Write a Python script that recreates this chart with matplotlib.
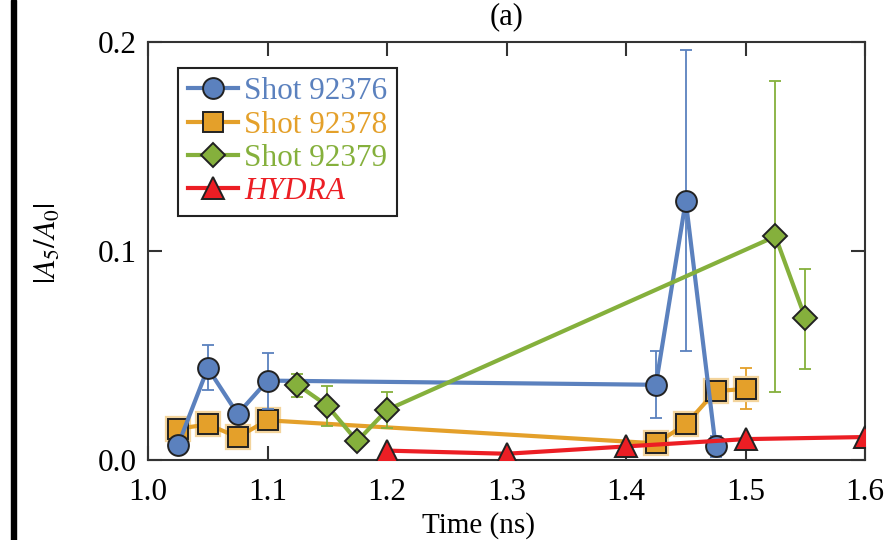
import matplotlib as mpl
import matplotlib.pyplot as plt
import numpy as np
from matplotlib.patches import Rectangle

mpl.rcParams.update({
    "font.family": "serif",
    "font.serif": ["Liberation Serif", "DejaVu Serif"],
    "mathtext.fontset": "stix",
    "font.size": 22,
})

# Shot 92376
t_376 = [1.025, 1.05, 1.075, 1.10, 1.425, 1.45, 1.475]
a_376 = [0.007, 0.044, 0.022, 0.038, 0.036, 0.124, 0.0065]
lo_376 = [0.0, 0.0105, 0.0, 0.0135, 0.016, 0.072, 0.005]
hi_376 = [0.0, 0.011, 0.0, 0.013, 0.016, 0.072, 0.005]

# Shot 92378
t_378 = [1.025, 1.05, 1.075, 1.10, 1.425, 1.45, 1.475, 1.50]
a_378 = [0.015, 0.017, 0.011, 0.019, 0.008, 0.017, 0.033, 0.034]
lo_378 = [0.0, 0.0, 0.0, 0.005, 0.0, 0.0, 0.005, 0.0095]
hi_378 = [0.0, 0.0, 0.0, 0.005, 0.0, 0.0, 0.005, 0.010]

# Shot 92379
t_379 = [1.125, 1.15, 1.175, 1.20, 1.525, 1.55]
a_379 = [0.036, 0.026, 0.009, 0.024, 0.107, 0.068]
lo_379 = [0.006, 0.0095, 0.0, 0.0088, 0.0745, 0.0245]
hi_379 = [0.005, 0.0095, 0.0, 0.0085, 0.0745, 0.0235]

# HYDRA simulation
t_hyd = [1.20, 1.30, 1.40, 1.50, 1.60]
a_hyd = [0.0045, 0.003, 0.0065, 0.010, 0.011]

BLUE = "#5b81be"
ORANGE = "#e4a02a"
GREEN = "#85b03c"
RED = "#ec1e24"
EDGE = "#222222"

fig = plt.figure(figsize=(8.87, 5.40), dpi=100)
ax = fig.add_axes([0.1669, 0.1481, 0.8083, 0.7741])

series = [
    (t_378, a_378, lo_378, hi_378, ORANGE, "s", 14, "Shot 92378", 3),
    (t_376, a_376, lo_376, hi_376, BLUE, "o", 15, "Shot 92376", 4),
    (t_379, a_379, lo_379, hi_379, GREEN, "D", 12.5, "Shot 92379", 5),
]
handles = {}
for t, a, lo, hi, c, m, ms, lab, z in series:
    ax.errorbar(t, a, yerr=[lo, hi], fmt="none", ecolor=c, elinewidth=1.3,
                capsize=4, capthick=1.3, zorder=z - 0.5)
    if m == "s":
        # soft halo around the square markers
        ax.plot(t, a, ls="none", marker=m, ms=ms, mfc="none", mec="#f3d49c",
                mew=4.5, zorder=z - 0.2)
    h, = ax.plot(t, a, color=c, lw=3, marker=m, ms=ms, mfc=c, mec=EDGE,
                 mew=1.4, label=lab, zorder=z)
    handles[lab] = h

h_hyd, = ax.plot(t_hyd, a_hyd, color=RED, lw=3, marker="^", ms=16, mfc=RED,
                 mec=EDGE, mew=1.4, label="HYDRA", zorder=6)
handles["HYDRA"] = h_hyd

ax.set_xlim(1.0, 1.6)
ax.set_ylim(0.0, 0.2)
ax.set_xticks(np.arange(1.0, 1.61, 0.1))
ax.set_yticks([0.0, 0.1, 0.2])
ax.xaxis.set_major_formatter(mpl.ticker.FormatStrFormatter("%.1f"))
ax.yaxis.set_major_formatter(mpl.ticker.FormatStrFormatter("%.1f"))
ax.tick_params(direction="in", length=10, width=1.5, color="#333333",
               top=True, right=True, labelsize=22.5, pad=8)
ax.tick_params(axis="x", pad=13)
for sp in ax.spines.values():
    sp.set_color("#333333")
    sp.set_linewidth(1.5)

ax.set_xlabel("Time (ns)", fontsize=21)
ax.xaxis.set_label_coords(0.4616, -0.125)
ax.set_ylabel(r"$|A_5/A_0|$", fontsize=22)
ax.yaxis.set_label_coords(-0.119, 0.52)
ax.set_title("(a)", fontsize=22, pad=13)

order = ["Shot 92376", "Shot 92378", "Shot 92379", "HYDRA"]
leg = ax.legend([handles[k] for k in order], order, loc="upper left",
                bbox_to_anchor=(0.042, 0.938), borderaxespad=0, fontsize=22.5,
                fancybox=False, edgecolor="#222222", framealpha=1,
                handlelength=1.6, handletextpad=0.22, labelspacing=0.14,
                borderpad=0.3, labelcolor="linecolor")
leg.get_frame().set_linewidth(1.5)
leg.get_texts()[3].set_fontstyle("italic")

fig.add_artist(Rectangle((11 / 887, 0), 5 / 887, 1, transform=fig.transFigure,
                         color="black"))

fig.savefig("out.png", dpi=100)
